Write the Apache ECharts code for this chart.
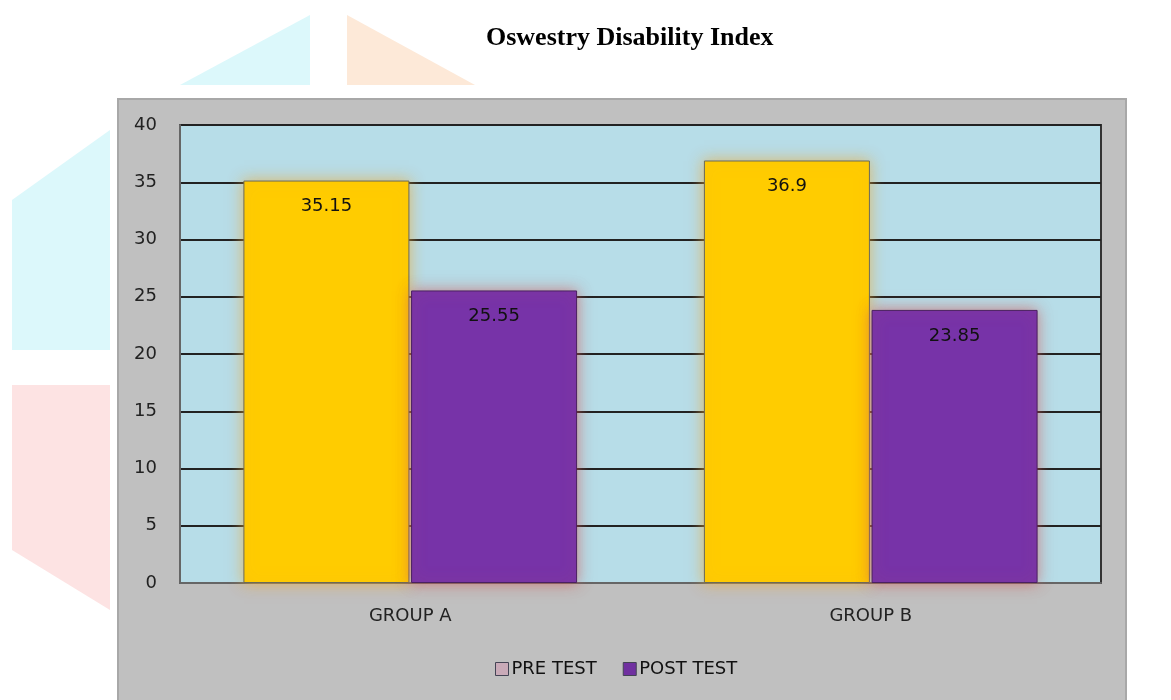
<!DOCTYPE html>
<html>
<head>
<meta charset="utf-8">
<script src="https://cdn.jsdelivr.net/npm/echarts@6/dist/echarts.min.js"></script>
<style>
html,body{margin:0;padding:0;background:#fff;}
#chart{width:1171px;height:700px;}
</style>
</head>
<body>
<div id="chart"></div>
<script>
const categories = ['GROUP A', 'GROUP B'];
const preTest = [35.15, 36.9];
const postTest = [25.55, 23.85];
const seriesNames = ['PRE TEST', 'POST TEST'];
const yTicks = {min: 0, max: 40, interval: 5};

const chart = echarts.init(document.getElementById('chart'));
const labelStyle = {
  show: true, position: 'insideTop', distance: 17,
  color: '#111', fontSize: 18, fontFamily: 'DejaVu Sans', fontWeight: 'normal'
};
chart.setOption({
  animation: false,
  backgroundColor: '#ffffff',
  graphic: [
    // faint watermark shapes
    {type: 'polygon', z: -10, shape: {points: [[180,85],[310,15],[310,85]]}, style: {fill: '#dcf8fb'}},
    {type: 'polygon', z: -10, shape: {points: [[347,15],[347,85],[475,85]]}, style: {fill: '#fde9d8'}},
    {type: 'polygon', z: -10, shape: {points: [[12,200],[110,130],[110,350],[12,350]]}, style: {fill: '#dcf8fb'}},
    {type: 'polygon', z: -10, shape: {points: [[12,385],[110,385],[110,610],[12,550]]}, style: {fill: '#fde3e3'}},
    // outer chart box
    {type: 'rect', z: -5, shape: {x: 118, y: 99, width: 1008, height: 620},
     style: {fill: '#c0c0c0', stroke: '#a8a8a8', lineWidth: 2}}
  ],
  title: {
    text: 'Oswestry Disability Index',
    left: 481, top: 20,
    textStyle: {fontFamily: 'Liberation Serif', fontWeight: 'bold', fontSize: 26, color: '#000'}
  },
  legend: {
    data: [
      {name: seriesNames[0], itemStyle: {color: '#c9aab8', borderColor: '#445', borderWidth: 1}},
      {name: seriesNames[1], itemStyle: {color: '#7030a0', borderColor: '#445', borderWidth: 1}}
    ],
    left: 490, top: 655,
    itemWidth: 13, itemHeight: 13, itemGap: 26,
    icon: 'rect',
    textStyle: {fontFamily: 'DejaVu Sans', fontSize: 18, color: '#111', padding: [0,0,0,-2]}
  },
  grid: {
    left: 180, right: 70, top: 125, bottom: 117,
    show: true, backgroundColor: '#b7dde8', borderColor: '#333', borderWidth: 2
  },
  xAxis: {
    type: 'category', data: categories,
    axisLine: {lineStyle: {color: '#666', width: 2}},
    axisTick: {show: false},
    axisLabel: {fontFamily: 'DejaVu Sans', fontSize: 18, color: '#222', margin: 24}
  },
  yAxis: {
    type: 'value', min: yTicks.min, max: yTicks.max, interval: yTicks.interval,
    axisLine: {show: true, lineStyle: {color: '#666', width: 2}},
    axisTick: {show: false},
    splitLine: {lineStyle: {color: '#222', width: 2}},
    axisLabel: {fontFamily: 'DejaVu Sans', fontSize: 18, color: '#222', margin: 23, padding: [8,0,0,0]}
  },
  series: [
    {
      name: seriesNames[0], type: 'bar', data: preTest,
      barWidth: 166, barGap: '1%',
      itemStyle: {color: '#ffcc00', borderColor: '#6a6a5a', borderWidth: 1,
        shadowBlur: 14, shadowColor: 'rgba(235,170,60,0.75)'},
      label: labelStyle
    },
    {
      name: seriesNames[1], type: 'bar', data: postTest,
      barWidth: 166,
      itemStyle: {color: '#7733a8', borderColor: '#4a2060', borderWidth: 1,
        shadowBlur: 14, shadowColor: 'rgba(210,90,90,0.7)'},
      label: labelStyle
    }
  ]
});
</script>
</body>
</html>
